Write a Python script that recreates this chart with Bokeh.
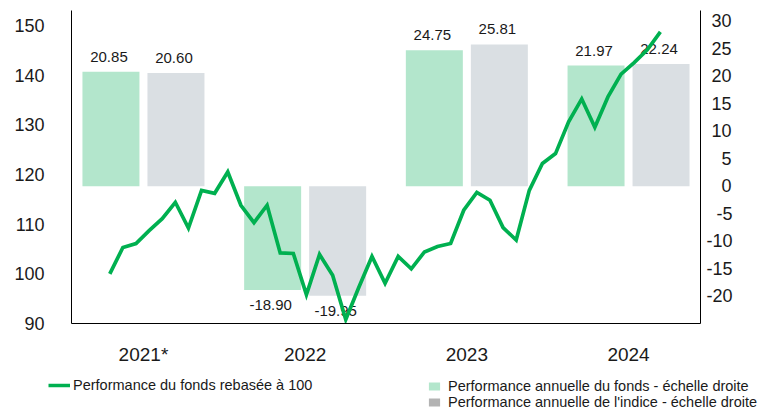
import numpy as np
from bokeh.plotting import figure
from bokeh.layouts import column
from bokeh.models import (Range1d, LinearAxis, FixedTicker, ColumnDataSource,
                          Legend, LegendItem)
from bokeh.core.properties import value
from bokeh.transform import dodge
from bokeh.embed import file_html
from bokeh.resources import INLINE

# ---------------- data ----------------
years = ["2021*", "2022", "2023", "2024"]
fund_perf = [20.85, -18.90, 24.75, 21.97]
index_perf = [20.60, -19.95, 25.81, 22.24]
# monthly NAV rebased to 100 (Jun 2021 .. Dec 2024)
nav = [100.0, 105.3, 106.1, 108.7, 111.1, 114.4, 109.2, 116.8, 116.2, 120.5,
       113.8, 110.3, 113.8, 104.2, 104.1, 95.8, 103.9, 99.7, 90.8, 97.3,
       103.5, 98.1, 103.5, 101.0, 104.4, 105.5, 106.1, 112.8, 116.4, 114.8,
       109.3, 106.8, 116.8, 122.2, 124.2, 130.6, 135.2, 129.5, 135.6, 140.2,
       142.5, 145.1, 148.7]
left_ticks = [90, 100, 110, 120, 130, 140, 150]
right_ticks = [-20, -15, -10, -5, 0, 5, 10, 15, 20, 25, 30]
legend_labels = ["Performance du fonds rebasée à 100",
                 "Performance annuelle du fonds - échelle droite",
                 "Performance annuelle de l'indice - échelle droite"]

# ---------------- style ----------------
GREEN = "#00b050"
FUND_C = "#b3e6cc"
INDEX_C = "#dadfe3"
INDEX_LEG_C = "#b3b3b3"
TXT = "#1a1a1a"
FONT = "Liberation Sans"

x = list(range(len(years)))
bars = ColumnDataSource(dict(
    x=x,
    fund=fund_perf,
    index=index_perf,
    fund_lbl=[f"{v:.2f}" for v in fund_perf],
    index_lbl=[f"{v:.2f}" for v in index_perf],
    fund_off=[-15 if v >= 0 else 15 for v in fund_perf],
    index_off=[-15 if v >= 0 else 15 for v in index_perf],
))
line_src = ColumnDataSource(dict(m=list(range(len(nav))), nav=nav))

p = figure(width=773, height=370, output_backend="svg", toolbar_location=None,
           x_range=Range1d(-0.445, 3.445), y_range=Range1d(90, 153),
           x_axis_location=None, y_axis_location=None,
           min_border_left=71, min_border_right=73,
           min_border_top=10, min_border_bottom=47)
p.frame_align = False
p.outline_line_color = None
p.grid.visible = False
p.background_fill_color = "white"
p.border_fill_color = "white"
p.extra_y_ranges = {"perf": Range1d(-25, 32)}
p.extra_x_ranges = {"month": Range1d(-2.92, 45.06)}

BW = 0.3525
OFF = 0.201
p.vbar(x=dodge("x", -OFF, range=p.x_range), top="fund", bottom=0,
       width=BW, source=bars, y_range_name="perf",
       fill_color=FUND_C, line_color=None)
p.vbar(x=dodge("x", OFF, range=p.x_range), top="index", bottom=0,
       width=BW, source=bars, y_range_name="perf",
       fill_color=INDEX_C, line_color=None)

for col, lbl, off, d in (("fund", "fund_lbl", "fund_off", -OFF),
                         ("index", "index_lbl", "index_off", OFF)):
    p.text(x=dodge("x", d, range=p.x_range), y=col, text=lbl, source=bars,
           y_range_name="perf", y_offset=off, x_offset=-2,
           text_align="center", text_baseline="middle",
           text_font=value(FONT), text_font_size="15px", text_color=TXT)

p.line(x="m", y="nav", source=line_src, x_range_name="month",
       line_color=GREEN, line_width=3.7, line_join="miter")


def style(ax, size):
    ax.axis_line_color = "black"
    ax.axis_line_width = 1
    ax.major_tick_line_color = None
    ax.minor_tick_line_color = None
    ax.major_tick_out = 0
    ax.major_tick_in = 0
    ax.major_label_text_font = FONT
    ax.major_label_text_font_size = size
    ax.major_label_text_color = TXT


left = LinearAxis(ticker=FixedTicker(ticks=left_ticks))
style(left, "18px")
left.major_label_standoff = 27
p.add_layout(left, "left")


def rpad(v):
    # right-align labels of the right axis (ASCII hyphen as in the original)
    s = str(v)
    pads = {1: "\u2007\u00a0", 2: "\u00a0", 3: ""}
    if s.startswith("-"):
        pads = {2: "\u2007", 3: ""}
    return pads[len(s)] + s


right = LinearAxis(y_range_name="perf", ticker=FixedTicker(ticks=right_ticks),
                   major_label_overrides={v: rpad(v) for v in right_ticks})
style(right, "18px")
right.major_label_standoff = 6
p.add_layout(right, "right")

bottom = LinearAxis(ticker=FixedTicker(ticks=x),
                    major_label_overrides={i: y for i, y in enumerate(years)})
style(bottom, "19px")
bottom.major_label_standoff = 20
p.add_layout(bottom, "below")

# ---------------- legend strip ----------------
lg = figure(width=773, height=40, output_backend="svg", toolbar_location=None,
            x_range=Range1d(0, 1), y_range=Range1d(1000, 1001),
            x_axis_location=None, y_axis_location=None,
            min_border=0)
lg.frame_align = False
lg.outline_line_color = None
lg.grid.visible = False
lg.border_fill_color = "white"
lg.background_fill_color = "white"
# legend-only renderers (their data lie outside this strip's view)
d_line = lg.line(x="m", y="nav", source=line_src, line_color=GREEN,
                 line_width=3.5)
d_fund = lg.vbar(x="x", top="fund", bottom=0, width=BW, source=bars,
                 fill_color=FUND_C, line_color=None)
d_idx = lg.vbar(x="x", top="index", bottom=0, width=BW, source=bars,
                fill_color=INDEX_LEG_C, line_color=None)

common = dict(padding=0, margin=0, spacing=0, border_line_color=None,
              background_fill_alpha=0, label_text_font=FONT,
              label_text_font_size="14.5px", label_text_color=TXT,
              label_height=16)
leg1 = Legend(items=[LegendItem(label=legend_labels[0], renderers=[d_line])],
              location=(48, 17), glyph_width=22, glyph_height=16,
              label_standoff=3, **common)
leg2 = Legend(items=[LegendItem(label=legend_labels[1], renderers=[d_fund]),
                     LegendItem(label=legend_labels[2], renderers=[d_idx])],
              location=(427, 0), glyph_width=14, glyph_height=10,
              label_standoff=7, **common)
lg.add_layout(leg1)
lg.add_layout(leg2)

layout = column(p, lg, spacing=0)
open("out.html", "w").write(file_html(layout, INLINE))
